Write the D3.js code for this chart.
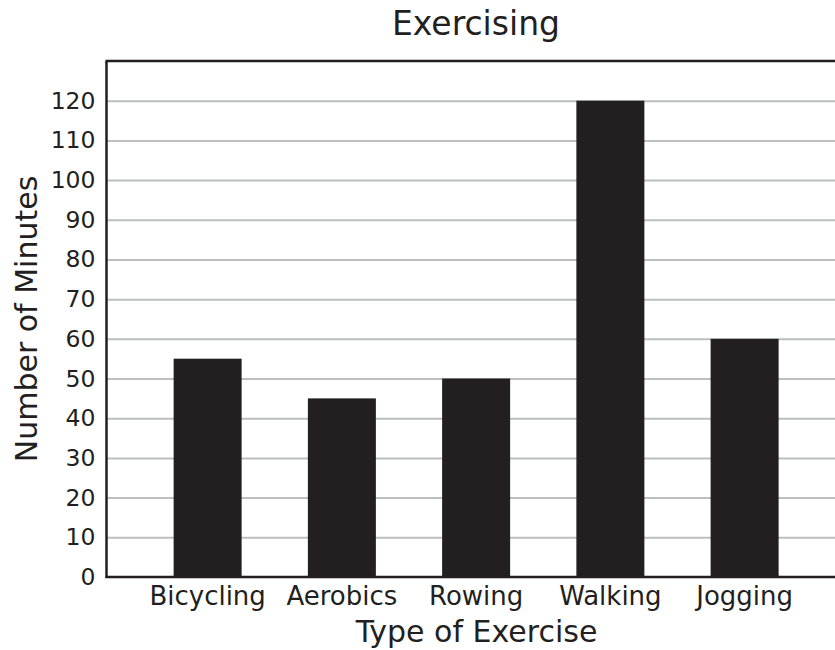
<!DOCTYPE html>
<html>
<head>
<meta charset="utf-8">
<script src="https://cdn.jsdelivr.net/npm/d3@7"></script>
<style>
  body { margin: 0; background: #fff; }
  svg text { font-family: "DejaVu Sans", Verdana, sans-serif; fill: #231f20; }
</style>
</head>
<body>
<div id="chart"></div>
<script>
var categories = ["Bicycling", "Aerobics", "Rowing", "Walking", "Jogging"];
var minutes = [55, 45, 50, 120, 60];
var yTicks = [0, 10, 20, 30, 40, 50, 60, 70, 80, 90, 100, 110, 120];
var gridTicks = [10, 20, 30, 40, 50, 60, 70, 80, 90, 100, 110, 120];

var INK = "#231f20",
    GRID = "#bcbec0";

var width = 835,
    height = 650,
    margins = {top: 61, bottom: 73, left: 106.5, right: 0};

var svg = d3.select("#chart")
    .append("svg")
        .attr("width", width)
        .attr("height", height);

/* Scales */
var x = d3.scaleBand()
    .domain(categories)
    .range([margins.left, margins.left + 5.5065 * 134.25])
    .paddingInner(0.4935)
    .paddingOuter(0.5);
var y = d3.scaleLinear()
    .domain([0, 130])
    .range([height - margins.bottom, margins.top]);

/* Grid lines */
var grid = d3.axisLeft(y)
    .tickValues(gridTicks)
    .tickSize(-(width - margins.left))
    .tickFormat("");
svg.append("g")
    .attr("class", "grid")
    .attr("transform", "translate(" + margins.left + ",0)")
    .call(grid)
    .call(function(g){ g.select(".domain").remove(); })
    .selectAll("line")
        .attr("stroke", GRID)
        .attr("stroke-width", 2);

/* Bars */
svg.selectAll(".bar")
    .data(minutes)
    .enter()
    .append("rect")
        .attr("class", "bar")
        .attr("x", function(d, i){ return x(categories[i]); })
        .attr("width", x.bandwidth())
        .attr("y", function(d){ return y(d); })
        .attr("height", function(d){ return y(0) - y(d); })
        .attr("fill", INK);

/* Frame: top, left, bottom */
svg.append("line")
    .attr("x1", margins.left - 1).attr("x2", width)
    .attr("y1", y(130)).attr("y2", y(130))
    .attr("stroke", INK).attr("stroke-width", 2.5);
svg.append("line")
    .attr("x1", margins.left).attr("x2", margins.left)
    .attr("y1", y(130)).attr("y2", y(0) + 1)
    .attr("stroke", INK).attr("stroke-width", 2.5);
svg.append("line")
    .attr("x1", margins.left - 1).attr("x2", width)
    .attr("y1", y(0)).attr("y2", y(0))
    .attr("stroke", INK).attr("stroke-width", 2.5);

/* Y axis labels */
var yAxis = d3.axisLeft(y)
    .tickValues(yTicks)
    .tickSize(0)
    .tickPadding(11);
svg.append("g")
    .attr("class", "yAxis")
    .attr("transform", "translate(" + margins.left + ",0)")
    .call(yAxis)
    .call(function(g){ g.select(".domain").remove(); })
    .selectAll("text")
        .attr("font-size", 23.5)
        .attr("font-family", null);

/* X axis labels */
var xAxis = d3.axisBottom(x)
    .tickSize(0)
    .tickPadding(10);
svg.append("g")
    .attr("class", "xAxis")
    .attr("transform", "translate(0," + y(0) + ")")
    .call(xAxis)
    .call(function(g){ g.select(".domain").remove(); })
    .selectAll("text")
        .attr("font-size", 26)
        .attr("font-family", null);

/* Titles */
svg.append("text")
    .attr("x", 476)
    .attr("y", 35)
    .attr("text-anchor", "middle")
    .attr("font-size", 33)
    .text("Exercising");

svg.append("text")
    .attr("x", 476.5)
    .attr("y", 642)
    .attr("text-anchor", "middle")
    .attr("font-size", 30)
    .text("Type of Exercise");

svg.append("text")
    .attr("transform", "translate(37," + ((y(0) + y(130)) / 2) + ") rotate(-90)")
    .attr("text-anchor", "middle")
    .attr("font-size", 30)
    .text("Number of Minutes");
</script>
</body>
</html>
